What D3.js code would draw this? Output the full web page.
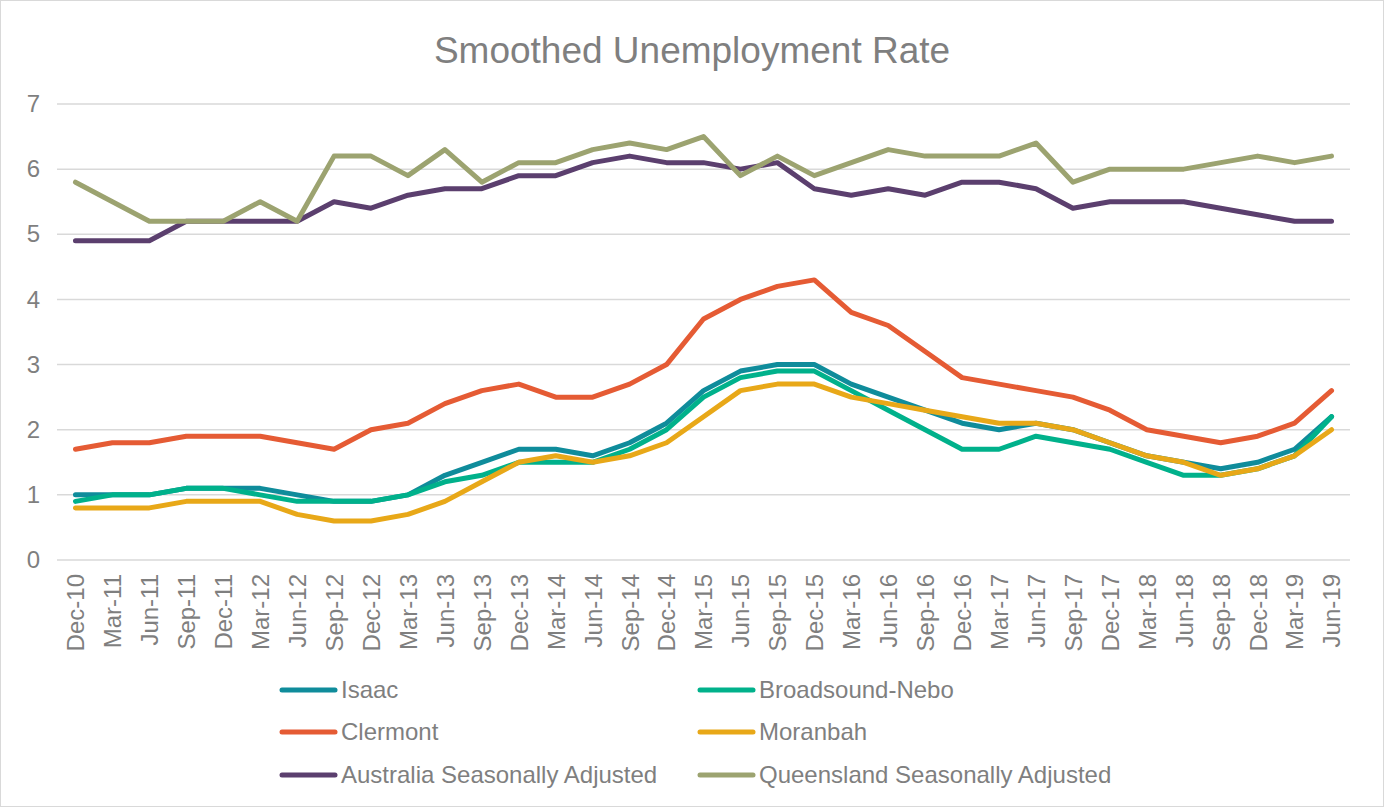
<!DOCTYPE html>
<html><head><meta charset="utf-8">
<script src="https://cdn.jsdelivr.net/npm/d3@7"></script>
<style>body{margin:0;background:#fff;}svg{display:block;font-family:"Liberation Sans",Arial,sans-serif;}</style>
</head><body>
<svg id="chart" width="1384" height="807"></svg>
<script>
const categories = ["Dec-10","Mar-11","Jun-11","Sep-11","Dec-11","Mar-12","Jun-12","Sep-12","Dec-12","Mar-13","Jun-13","Sep-13","Dec-13","Mar-14","Jun-14","Sep-14","Dec-14","Mar-15","Jun-15","Sep-15","Dec-15","Mar-16","Jun-16","Sep-16","Dec-16","Mar-17","Jun-17","Sep-17","Dec-17","Mar-18","Jun-18","Sep-18","Dec-18","Mar-19","Jun-19"];
const isaac = [1.0,1.0,1.0,1.1,1.1,1.1,1.0,0.9,0.9,1.0,1.3,1.5,1.7,1.7,1.6,1.8,2.1,2.6,2.9,3.0,3.0,2.7,2.5,2.3,2.1,2.0,2.1,2.0,1.8,1.6,1.5,1.4,1.5,1.7,2.2];
const broadsoundNebo = [0.9,1.0,1.0,1.1,1.1,1.0,0.9,0.9,0.9,1.0,1.2,1.3,1.5,1.5,1.5,1.7,2.0,2.5,2.8,2.9,2.9,2.6,2.3,2.0,1.7,1.7,1.9,1.8,1.7,1.5,1.3,1.3,1.4,1.6,2.2];
const clermont = [1.7,1.8,1.8,1.9,1.9,1.9,1.8,1.7,2.0,2.1,2.4,2.6,2.7,2.5,2.5,2.7,3.0,3.7,4.0,4.2,4.3,3.8,3.6,3.2,2.8,2.7,2.6,2.5,2.3,2.0,1.9,1.8,1.9,2.1,2.6];
const moranbah = [0.8,0.8,0.8,0.9,0.9,0.9,0.7,0.6,0.6,0.7,0.9,1.2,1.5,1.6,1.5,1.6,1.8,2.2,2.6,2.7,2.7,2.5,2.4,2.3,2.2,2.1,2.1,2.0,1.8,1.6,1.5,1.3,1.4,1.6,2.0];
const australia = [4.9,4.9,4.9,5.2,5.2,5.2,5.2,5.5,5.4,5.6,5.7,5.7,5.9,5.9,6.1,6.2,6.1,6.1,6.0,6.1,5.7,5.6,5.7,5.6,5.8,5.8,5.7,5.4,5.5,5.5,5.5,5.4,5.3,5.2,5.2];
const queensland = [5.8,5.5,5.2,5.2,5.2,5.5,5.2,6.2,6.2,5.9,6.3,5.8,6.1,6.1,6.3,6.4,6.3,6.5,5.9,6.2,5.9,6.1,6.3,6.2,6.2,6.2,6.4,5.8,6.0,6.0,6.0,6.1,6.2,6.1,6.2];
const seriesNames = ["Isaac","Broadsound-Nebo","Clermont","Moranbah","Australia Seasonally Adjusted","Queensland Seasonally Adjusted"];
const seriesColors = ["#0f8c9b","#00b18b","#e55b34","#e8a818","#5b3f6e","#9ca370"];
const yTicks = [0,1,2,3,4,5,6,7];
const title = "Smoothed Unemployment Rate";

const seriesData = [isaac, broadsoundNebo, clermont, moranbah, australia, queensland];
const svg = d3.select("#chart");
svg.append("rect").attr("x",0.5).attr("y",0.5).attr("width",1383).attr("height",806)
  .attr("fill","#fff").attr("stroke","#d9d9d9");

const pLeft = 57, pRight = 1350, pTop = 104, pBottom = 560;
const x = d3.scalePoint().domain(categories).range([pLeft,pRight]).padding(0.5);
const y = d3.scaleLinear().domain([0,7]).range([pBottom,pTop]);
const textColor = "#7f7f7f";

svg.append("text").attr("x",692).attr("y",63).attr("text-anchor","middle")
  .attr("font-size",37).attr("fill",textColor).text(title);

// gridlines
svg.append("g").selectAll("line").data(yTicks).join("line")
  .attr("x1",pLeft).attr("x2",pRight).attr("y1",d=>y(d)).attr("y2",d=>y(d))
  .attr("stroke","#d9d9d9").attr("stroke-width",1.5);

// y axis labels
const yAxis = d3.axisLeft(y).tickValues(yTicks).tickSize(0).tickPadding(0).tickFormat(d3.format("d"));
const gy = svg.append("g").attr("transform",`translate(40,0)`).call(yAxis);
gy.select(".domain").remove();
gy.selectAll("text").attr("font-size",24).attr("fill",textColor).attr("font-family","Liberation Sans, Arial, sans-serif");

// x axis labels
const xAxis = d3.axisBottom(x).tickSize(0).tickPadding(0);
const gx = svg.append("g").attr("transform",`translate(0,${pBottom})`).call(xAxis);
gx.select(".domain").remove();
gx.selectAll("text").attr("font-size",24).attr("fill",textColor)
  .attr("font-family","Liberation Sans, Arial, sans-serif")
  .attr("transform","rotate(-90)").attr("text-anchor","end")
  .attr("x",-14).attr("y",0).attr("dy","0.35em");

// lines
const line = d3.line().x((d,i)=>x(categories[i])).y(d=>y(d));
svg.append("g").selectAll("path").data(seriesData).join("path")
  .attr("d",line).attr("fill","none")
  .attr("stroke",(d,i)=>seriesColors[i]).attr("stroke-width",5)
  .attr("stroke-linejoin","round").attr("stroke-linecap","round");

// legend
const legX = [282, 700], legY = [690, 732, 775];
const lg = svg.append("g").selectAll("g").data(seriesNames).join("g")
  .attr("transform",(d,i)=>`translate(${legX[i%2]},${legY[Math.floor(i/2)]})`);
lg.append("line").attr("x1",0).attr("x2",53).attr("y1",0).attr("y2",0)
  .attr("stroke",(d,i)=>seriesColors[i]).attr("stroke-width",5).attr("stroke-linecap","round");
lg.append("text").attr("x",59).attr("y",0).attr("dy","0.35em")
  .attr("font-size",24).attr("fill",textColor).text(d=>d);
</script>
</body></html>
